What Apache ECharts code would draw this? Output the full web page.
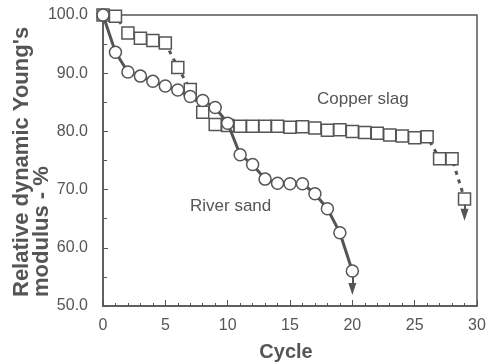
<!DOCTYPE html>
<html>
<head>
<meta charset="utf-8">
<script src="https://cdn.jsdelivr.net/npm/echarts@6/dist/echarts.min.js"></script>
<style>
html,body{margin:0;padding:0;background:#fff;}
#c{width:493px;height:362px;}
</style>
</head>
<body>
<div id="c"></div>
<script>
const copperCycles = [0,1,2,3,4,5,6,7,8,9,10,11,12,13,14,15,16,17,18,19,20,21,22,23,24,25,26,27,28,29];
const copperSlag = [100,99.8,96.9,96.0,95.6,95.2,91.0,87.2,83.3,81.2,81.0,80.9,80.9,80.9,80.9,80.7,80.8,80.6,80.2,80.3,80.0,79.8,79.7,79.4,79.2,78.9,79.1,75.3,75.3,68.4];
const riverCycles = [0,1,2,3,4,5,6,7,8,9,10,11,12,13,14,15,16,17,18,19,20];
const riverSand = [100,93.6,90.2,89.5,88.6,87.8,87.1,86.0,85.3,84.1,81.4,76.0,74.3,71.8,71.1,71.0,71.0,69.3,66.7,62.6,56.0];
// arrows: [cycle, from value, to value]
const copperArrow = [29, 67.4, 65.7];
const riverArrow = [20, 55.0, 52.9];
const xTicks = [0,5,10,15,20,25,30];
const yTicks = [50,60,70,80,90,100];

const FONT = '"Liberation Sans", Arial, sans-serif';
const INK = '#555';

const chart = echarts.init(document.getElementById('c'));
function arrowLine(a){
  return {
    silent: true,
    symbol: ['none','triangle'],
    symbolSize: [8,12],
    label: {show:false},
    lineStyle: {type:'solid', color: INK, width: 2},
    data: [[{coord:[a[0],a[1]]},{coord:[a[0],a[2]]}]]
  };
}
chart.setOption({
  animation: false,
  grid: {left:103, right:16, top:15, bottom:56, show:true, borderColor:INK, borderWidth:1.5, backgroundColor:'transparent'},
  xAxis: {
    type:'value', min:xTicks[0], max:xTicks[xTicks.length-1], interval:5,
    axisLine:{show:true, lineStyle:{color:INK, width:1.5}},
    axisTick:{show:true, inside:true, length:6, lineStyle:{color:INK, width:1}},
    minorTick:{show:true, splitNumber:5, length:3, lineStyle:{color:INK, width:1}},
    splitLine:{show:false},
    axisLabel:{color:INK, fontSize:16, fontFamily:FONT, margin:12}
  },
  yAxis: {
    type:'value', min:yTicks[0], max:yTicks[yTicks.length-1], interval:10,
    axisLine:{show:true, lineStyle:{color:INK, width:1.5}},
    axisTick:{show:true, inside:true, length:5, lineStyle:{color:INK, width:1}},
    minorTick:{show:true, splitNumber:2, length:4, lineStyle:{color:INK, width:1}},
    splitLine:{show:false},
    axisLabel:{color:INK, fontSize:16, fontFamily:FONT, margin:15, formatter:v=>v.toFixed(1)}
  },
  series: [
    {
      name:'Copper slag', type:'line', z:2,
      data: copperSlag.map((v,i)=>[copperCycles[i], v]),
      symbol:'rect', symbolSize:12, showSymbol:true, showAllSymbol:true,
      itemStyle:{color:'#fff', borderColor:INK, borderWidth:1.5},
      lineStyle:{color:INK, width:3, type:[4,5]},
      markLine: arrowLine(copperArrow)
    },
    {
      name:'River sand', type:'line', z:3,
      data: riverSand.map((v,i)=>[riverCycles[i], v]),
      symbol:'circle', symbolSize:12, showSymbol:true, showAllSymbol:true,
      itemStyle:{color:'#fff', borderColor:INK, borderWidth:1.5},
      lineStyle:{color:INK, width:3, type:'solid'},
      markLine: arrowLine(riverArrow)
    }
  ],
  graphic: [
    {type:'text', left:317, top:91, style:{text:'Copper slag', fill:INK, font:'17px '+FONT}},
    {type:'text', left:190, top:198, style:{text:'River sand', fill:INK, font:'17px '+FONT}},
    {type:'text', x:286, y:352, style:{text:'Cycle', fill:INK, font:'bold 20px '+FONT, textAlign:'center', textVerticalAlign:'middle'}},
    {type:'text', x:32, y:297, rotation:Math.PI/2,
      style:{text:"Relative dynamic Young's\nmodulus - %", fill:INK, font:'bold 22px '+FONT, lineHeight:20, textAlign:'left', textVerticalAlign:'middle'}}
  ]
});
</script>
</body>
</html>
